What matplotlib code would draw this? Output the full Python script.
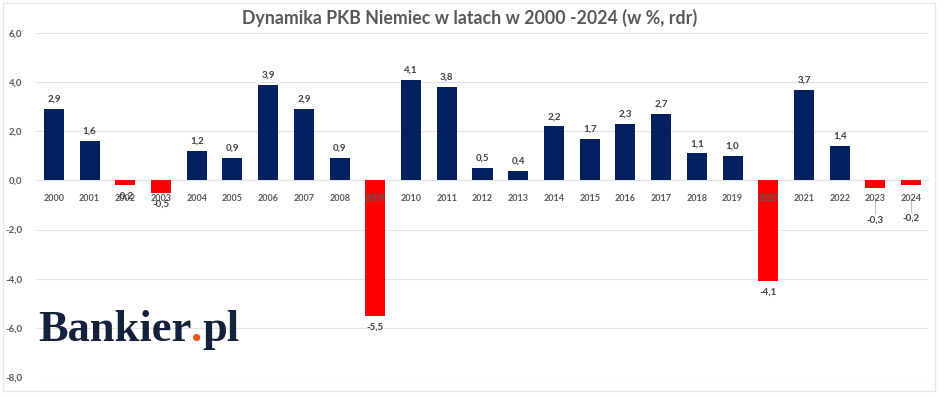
import matplotlib
matplotlib.use("Agg")
import matplotlib.pyplot as plt
from matplotlib.patches import Rectangle

years = [str(y) for y in range(2000, 2025)]
gdp = [2.9, 1.6, -0.2, -0.5, 1.2, 0.9, 3.9, 2.9, 0.9, -5.5, 4.1, 3.8, 0.5,
       0.4, 2.2, 1.7, 2.3, 2.7, 1.1, 1.0, -4.1, 3.7, 1.4, -0.3, -0.2]
yticks = [6, 4, 2, 0, -2, -4, -6, -8]
# labels that were dragged lower in the original, with a leader line
moved = {"2023": -1.6, "2024": -1.52}

navy = "#002060"
red = "#ff0000"
grey = "#595959"

plt.rcParams["font.family"] = ["Lato", "DejaVu Sans"]

fig = plt.figure(figsize=(9.48, 3.97), dpi=100)
ax = fig.add_axes([36 / 948, 20 / 397, 893 / 948, 344 / 397])

x = range(len(years))
colors = [navy if v >= 0 else red for v in gdp]
ax.bar(x, gdp, width=0.56, color=colors, zorder=2)

ax.set_xlim(-0.5, len(years) - 0.5)
ax.set_ylim(-8, 6)
ax.set_yticks(yticks)
ax.set_yticklabels([f"{t:.1f}".replace(".", ",") for t in yticks],
                   fontsize=7, color=grey, fontweight="bold")
ax.tick_params(axis="y", length=0, pad=10)
ax.set_xticks([])
ax.grid(axis="y", color="#e3e3e3", linewidth=0.8, zorder=0)
for s in ax.spines.values():
    s.set_visible(False)
ax.axhline(0, color="#d9d9d9", linewidth=0.8, zorder=1)

for i, (yr, v) in enumerate(zip(years, gdp)):
    ax.annotate(yr, (i, 0), xytext=(0, -13), textcoords="offset points",
                ha="center", va="center", fontsize=6.5, color=grey,
                fontweight="bold", zorder=3)
    lab = f"{v:.1f}".replace(".", ",")
    if yr in moved:
        ax.plot([i, i], [-0.7, moved[yr] + 0.25], color="#bfbfbf",
                linewidth=0.8, zorder=1)
        ax.text(i, moved[yr], lab, ha="center", va="center", fontsize=7,
                color="#404040", fontweight="bold")
    elif v >= 0:
        ax.annotate(lab, (i, v), xytext=(0, 7), textcoords="offset points",
                    ha="center", va="center", fontsize=7, color="#404040",
                    fontweight="bold")
    else:
        ax.annotate(lab, (i, v), xytext=(0, -8), textcoords="offset points",
                    ha="center", va="center", fontsize=7, color="#404040",
                    fontweight="bold")

fig.text(470 / 948, 1 - 18 / 397,
         "Dynamika PKB Niemiec w latach w 2000 -2024 (w %, rdr)",
         ha="center", va="center", fontsize=12.8, fontweight="bold",
         color="#595959")

# logo
logo_y = 1 - 330 / 397
logo = fig.text(38 / 948, logo_y, "Bankier", ha="left", va="center",
                fontsize=32, fontweight="bold", color="#14213d",
                family="Liberation Serif")
fig.canvas.draw()
bb = logo.get_window_extent()
dot = fig.text(bb.x1 / 948, logo_y, ".", ha="left", va="center",
               fontsize=32, fontweight="bold", color="#e8541c",
               family="Liberation Serif")
fig.canvas.draw()
bb2 = dot.get_window_extent()
fig.text(bb2.x1 / 948, logo_y, "pl", ha="left", va="center",
         fontsize=32, fontweight="bold", color="#14213d",
         family="Liberation Serif")

fig.patches.append(Rectangle((3 / 948, 6 / 397), 932 / 948, 388 / 397,
                             transform=fig.transFigure, fill=False,
                             edgecolor="#e6e6e6", linewidth=1))

fig.savefig("out.png", dpi=100)
